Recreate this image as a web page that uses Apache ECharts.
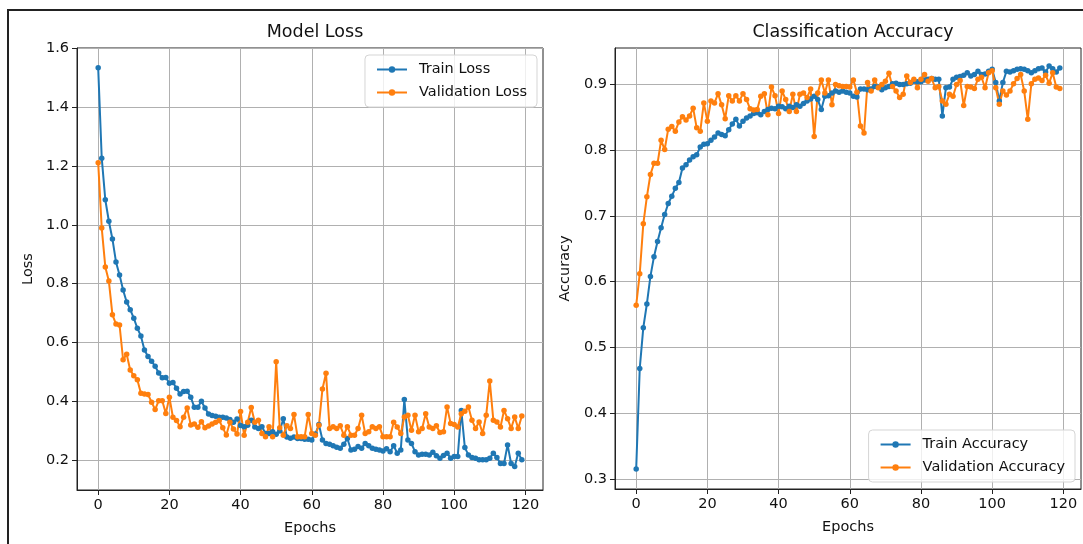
<!DOCTYPE html>
<html>
<head>
<meta charset="utf-8">
<script src="https://cdn.jsdelivr.net/npm/echarts@6/dist/echarts.min.js"></script>
<style>
html,body{margin:0;padding:0;background:#fff;}
#c{width:1083px;height:544px;}
</style>
</head>
<body>
<div id="c"></div>
<script>
// ---- data ----
const xTicks = [0, 20, 40, 60, 80, 100, 120];
const lossTicks = [0.2, 0.4, 0.6, 0.8, 1.0, 1.2, 1.4, 1.6];
const accTicks = [0.3, 0.4, 0.5, 0.6, 0.7, 0.8, 0.9];

const trainLoss = [
1.533,1.226,1.085,1.012,0.952,0.874,0.830,0.779,0.738,0.712,
0.683,0.649,0.623,0.575,0.553,0.537,0.520,0.497,0.481,0.482,
0.462,0.465,0.445,0.426,0.434,0.435,0.415,0.381,0.381,0.401,
0.378,0.358,0.353,0.350,0.347,0.347,0.344,0.339,0.330,0.341,
0.319,0.315,0.320,0.337,0.314,0.309,0.315,0.292,0.292,0.298,
0.289,0.300,0.342,0.280,0.276,0.280,0.275,0.275,0.272,0.272,
0.270,0.290,0.322,0.270,0.258,0.255,0.250,0.245,0.242,0.255,
0.275,0.236,0.238,0.248,0.242,0.258,0.250,0.242,0.238,0.236,
0.232,0.240,0.230,0.250,0.225,0.236,0.407,0.270,0.258,0.230,
0.219,0.221,0.221,0.219,0.228,0.216,0.208,0.217,0.225,0.208,
0.214,0.214,0.370,0.244,0.219,0.210,0.208,0.203,0.203,0.203,
0.208,0.225,0.210,0.190,0.190,0.253,0.190,0.180,0.225,0.203
];
const valLoss = [
1.211,0.989,0.857,0.809,0.695,0.663,0.660,0.542,0.561,0.507,
0.488,0.474,0.428,0.426,0.424,0.398,0.373,0.403,0.403,0.360,
0.415,0.347,0.336,0.315,0.347,0.378,0.321,0.324,0.313,0.332,
0.311,0.317,0.324,0.330,0.336,0.311,0.287,0.330,0.307,0.290,
0.366,0.286,0.330,0.380,0.330,0.337,0.292,0.281,0.315,0.281,
0.535,0.311,0.286,0.318,0.309,0.356,0.281,0.281,0.281,0.356,
0.292,0.286,0.320,0.443,0.496,0.309,0.315,0.309,0.318,0.286,
0.315,0.286,0.286,0.309,0.354,0.292,0.298,0.315,0.309,0.315,
0.281,0.281,0.281,0.330,0.314,0.292,0.348,0.354,0.303,0.354,
0.298,0.309,0.359,0.314,0.309,0.318,0.295,0.298,0.382,0.326,
0.322,0.314,0.359,0.367,0.382,0.337,0.309,0.331,0.292,0.354,
0.470,0.337,0.331,0.314,0.370,0.342,0.309,0.348,0.309,0.351
];
const trainAcc = [
0.315,0.468,0.530,0.566,0.608,0.638,0.661,0.682,0.702,0.719,
0.730,0.742,0.751,0.773,0.778,0.785,0.790,0.793,0.805,0.809,
0.810,0.815,0.820,0.826,0.824,0.822,0.831,0.840,0.847,0.837,
0.844,0.849,0.852,0.856,0.857,0.854,0.859,0.862,0.864,0.863,
0.867,0.866,0.863,0.867,0.865,0.869,0.867,0.871,0.875,0.878,
0.882,0.877,0.862,0.882,0.883,0.887,0.890,0.888,0.890,0.888,
0.887,0.882,0.881,0.893,0.893,0.892,0.893,0.897,0.896,0.892,
0.895,0.897,0.901,0.902,0.900,0.900,0.901,0.902,0.905,0.904,
0.904,0.907,0.908,0.909,0.908,0.908,0.852,0.895,0.896,0.908,
0.911,0.912,0.914,0.918,0.913,0.915,0.920,0.915,0.916,0.920,
0.923,0.903,0.875,0.903,0.920,0.919,0.921,0.923,0.924,0.923,
0.921,0.918,0.921,0.924,0.925,0.919,0.928,0.924,0.919,0.925
];
const valAcc = [
0.564,0.612,0.688,0.729,0.763,0.780,0.780,0.815,0.801,0.832,
0.836,0.829,0.843,0.851,0.846,0.852,0.864,0.834,0.829,0.872,
0.844,0.875,0.872,0.886,0.869,0.848,0.883,0.875,0.883,0.875,
0.886,0.877,0.863,0.861,0.862,0.882,0.886,0.854,0.896,0.883,
0.856,0.890,0.877,0.859,0.885,0.859,0.885,0.887,0.880,0.893,
0.821,0.887,0.907,0.887,0.907,0.869,0.900,0.898,0.897,0.897,
0.896,0.907,0.888,0.837,0.826,0.903,0.890,0.907,0.895,0.900,
0.905,0.917,0.897,0.890,0.880,0.885,0.913,0.903,0.908,0.895,
0.908,0.915,0.905,0.909,0.895,0.897,0.875,0.870,0.885,0.882,
0.900,0.906,0.868,0.897,0.896,0.894,0.908,0.911,0.895,0.918,
0.921,0.895,0.870,0.890,0.884,0.890,0.901,0.909,0.915,0.890,
0.847,0.901,0.908,0.910,0.906,0.914,0.902,0.918,0.896,0.894
];

// ---- chart ----
const FONT = '"DejaVu Sans", sans-serif';
const TXT = '#111';
const BLUE = '#1f77b4', ORANGE = '#ff7f0e';
const pairs = arr => arr.map((v, i) => [i, v]);

function xAxisFor(gi) {
  return {
    type: 'value', gridIndex: gi, min: -5.95, max: 124.95,
    name: 'Epochs', nameLocation: 'middle', nameGap: 31,
    nameTextStyle: {fontFamily: FONT, fontSize: 14.5, color: TXT},
    axisLine: {show: true, onZero: false, lineStyle: {color: '#222', width: 1}},
    axisTick: {show: true, length: 5, lineStyle: {color: '#222'}, customValues: xTicks},
    axisLabel: {fontFamily: FONT, fontSize: 14.5, color: TXT, margin: 8, customValues: xTicks,
      formatter: v => String(Math.round(v))},
    splitLine: {show: true, lineStyle: {color: '#b0b0b0', width: 1}}
  };
}
function yAxisFor(gi, mn, mx, ticks, name, gap) {
  return {
    type: 'value', gridIndex: gi, min: mn, max: mx,
    name: name, nameLocation: 'middle', nameGap: gap,
    nameTextStyle: {fontFamily: FONT, fontSize: 14.5, color: TXT},
    axisLine: {show: true, onZero: false, lineStyle: {color: '#222', width: 1}},
    axisTick: {show: true, length: 5, lineStyle: {color: '#222'}, customValues: ticks},
    axisLabel: {fontFamily: FONT, fontSize: 14.5, color: TXT, margin: 8, customValues: ticks,
      formatter: v => v.toFixed(1)},
    splitLine: {show: true, lineStyle: {color: '#b0b0b0', width: 1}}
  };
}
function lineSeries(name, data, color, xi, yi) {
  return {
    name: name, type: 'line', xAxisIndex: xi, yAxisIndex: yi,
    data: pairs(data), symbol: 'circle', symbolSize: 5.5, showSymbol: true,
    lineStyle: {color: color, width: 2}, itemStyle: {color: color},
    emphasis: {disabled: true}, animation: false, z: 3
  };
}
const legendCommon = {
  orient: 'vertical', itemWidth: 30, itemHeight: 8, itemGap: 8,
  padding: [7, 10, 7, 11], backgroundColor: 'rgba(255,255,255,0.8)',
  borderColor: '#d5d5d5', borderWidth: 1, borderRadius: 4,
  textStyle: {fontFamily: FONT, fontSize: 14.5, color: TXT, padding: [0, 0, 0, 7]},
  selectedMode: false
};

const chart = echarts.init(document.getElementById('c'), null, {renderer: 'canvas'});
chart.setOption({
  animation: false,
  backgroundColor: '#fff',
  title: [
    {text: 'Model Loss', left: 310, top: 18, textAlign: 'center',
     textStyle: {fontFamily: FONT, fontSize: 17.5, fontWeight: 'normal', color: TXT}},
    {text: 'Classification Accuracy', left: 848, top: 18, textAlign: 'center',
     textStyle: {fontFamily: FONT, fontSize: 17.5, fontWeight: 'normal', color: TXT}}
  ],
  grid: [
    {left: 77, top: 48, width: 466, height: 442, show: true, borderColor: '#222', borderWidth: 1, backgroundColor: 'transparent'},
    {left: 615, top: 48, width: 466, height: 441, show: true, borderColor: '#222', borderWidth: 1, backgroundColor: 'transparent'}
  ],
  xAxis: [xAxisFor(0), xAxisFor(1)],
  yAxis: [
    yAxisFor(0, 0.1, 1.6, lossTicks, 'Loss', 41),
    yAxisFor(1, 0.2845, 0.9555, accTicks, 'Accuracy', 42)
  ],
  legend: [
    Object.assign({}, legendCommon, {right: 546, top: 55, data: ['Train Loss', 'Validation Loss']}),
    Object.assign({}, legendCommon, {right: 8, top: 430, data: ['Train Accuracy', 'Validation Accuracy']})
  ],
  series: [
    lineSeries('Train Loss', trainLoss, BLUE, 0, 0),
    lineSeries('Validation Loss', valLoss, ORANGE, 0, 0),
    lineSeries('Train Accuracy', trainAcc, BLUE, 1, 1),
    lineSeries('Validation Accuracy', valAcc, ORANGE, 1, 1)
  ],
  graphic: [
    {type: 'rect', shape: {x: 8, y: 10, width: 1200, height: 700},
     style: {fill: 'none', stroke: '#222', lineWidth: 2}, silent: true, z: 100}
  ]
});
</script>
</body>
</html>
